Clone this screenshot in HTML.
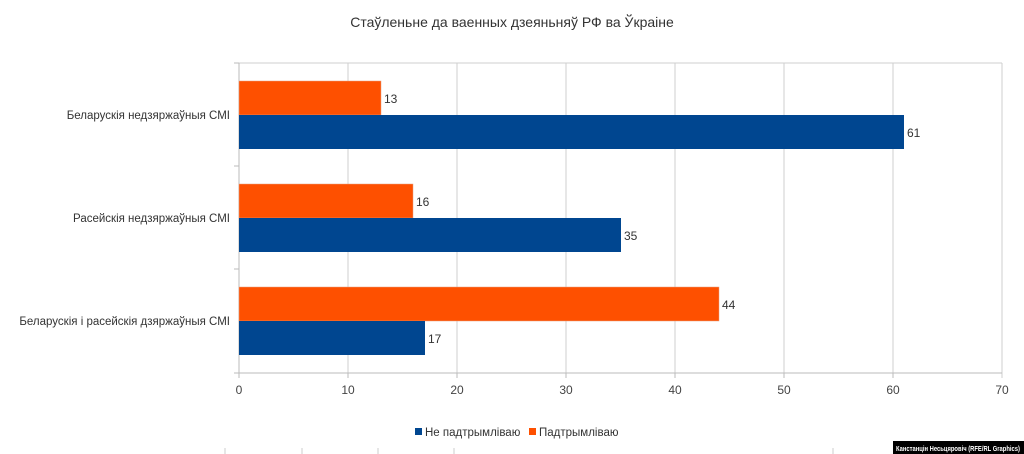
<!DOCTYPE html><html><head><style>body{margin:0;background:#fff}svg{display:block}</style></head><body>
<svg width="1024" height="454" xmlns="http://www.w3.org/2000/svg" font-family="Liberation Sans, DejaVu Sans, sans-serif">
<rect width="1024" height="454" fill="#fff"/>
<text x="512" y="27" text-anchor="middle" font-size="14" fill="#333">Стаўленьне да ваенных дзеяньняў РФ ва Ўкраіне</text>
<g stroke="#cfcfcf" stroke-width="1">
<line x1="239" y1="63" x2="1002" y2="63"/>
<line x1="348" y1="63" x2="348" y2="373"/><line x1="457" y1="63" x2="457" y2="373"/>
<line x1="566" y1="63" x2="566" y2="373"/><line x1="675" y1="63" x2="675" y2="373"/>
<line x1="784" y1="63" x2="784" y2="373"/><line x1="893" y1="63" x2="893" y2="373"/>
<line x1="1002" y1="63" x2="1002" y2="378"/>
</g>
<g stroke="#bbb" stroke-width="1">
<line x1="239" y1="63" x2="239" y2="378"/>
<line x1="234" y1="373" x2="1002" y2="373"/>
<line x1="234" y1="63" x2="239" y2="63"/><line x1="234" y1="166" x2="239" y2="166"/><line x1="234" y1="269" x2="239" y2="269"/>
<line x1="348" y1="373" x2="348" y2="378"/><line x1="457" y1="373" x2="457" y2="378"/><line x1="566" y1="373" x2="566" y2="378"/><line x1="675" y1="373" x2="675" y2="378"/><line x1="784" y1="373" x2="784" y2="378"/><line x1="893" y1="373" x2="893" y2="378"/>
</g>
<g fill="#fe5000" stroke="#e8a080" stroke-width="0.5">
<rect x="239" y="81" width="142" height="34"/>
<rect x="239" y="184" width="174" height="34"/>
<rect x="239" y="287" width="480" height="34"/>
</g>
<g fill="#004690">
<rect x="239" y="115" width="665" height="34"/>
<rect x="239" y="218" width="382" height="34"/>
<rect x="239" y="321" width="186" height="34"/>
</g>
<g font-size="12" fill="#333">
<text x="384" y="103">13</text><text x="907" y="137">61</text>
<text x="416" y="206">16</text><text x="624" y="240">35</text>
<text x="722" y="309">44</text><text x="428" y="343">17</text>
</g>
<g font-size="11.5" fill="#333" text-anchor="end">
<text x="230" y="119">Беларускія недзяржаўныя СМІ</text>
<text x="230" y="222">Расейскія недзяржаўныя СМІ</text>
<text x="230" y="325">Беларускія і расейскія дзяржаўныя СМІ</text>
</g>
<g font-size="12" fill="#444" text-anchor="middle">
<text x="239" y="394">0</text><text x="348" y="394">10</text><text x="457" y="394">20</text><text x="566" y="394">30</text><text x="675" y="394">40</text><text x="784" y="394">50</text><text x="893" y="394">60</text><text x="1002" y="394">70</text>
</g>
<rect x="415" y="428" width="7" height="7" fill="#004690"/>
<text x="425" y="436" font-size="11.5" fill="#333">Не падтрымліваю</text>
<rect x="529" y="428" width="7" height="7" fill="#fe5000"/>
<text x="539" y="436" font-size="11.5" fill="#333">Падтрымліваю</text>
<g stroke="#ccc"><line x1="225" y1="448" x2="225" y2="454"/><line x1="302" y1="448" x2="302" y2="454"/><line x1="378" y1="448" x2="378" y2="454"/><line x1="454" y1="448" x2="454" y2="454"/><line x1="833" y1="448" x2="833" y2="454"/></g>
<rect x="893" y="441" width="131" height="13" fill="#000"/>
<text x="896" y="451" font-size="7" font-weight="bold" fill="#fff" textLength="124" lengthAdjust="spacingAndGlyphs">Канстанцін Несьцяровіч (RFE/RL Graphics)</text>
</svg>
</body></html>
